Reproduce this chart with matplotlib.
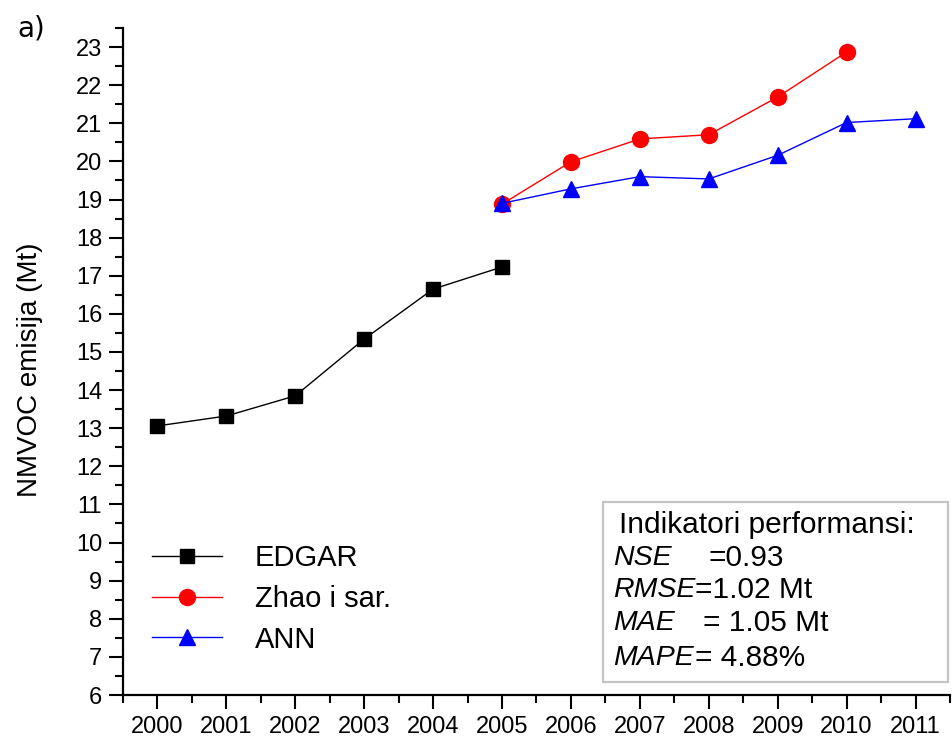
import matplotlib
matplotlib.use("Agg")
import matplotlib.pyplot as plt
from matplotlib.patches import Rectangle
from matplotlib.ticker import MultipleLocator

plt.rcParams['font.family'] = ['Liberation Sans', 'DejaVu Sans']

# Data
years_edgar = [2000, 2001, 2002, 2003, 2004, 2005]
edgar = [13.06, 13.32, 13.85, 15.34, 16.65, 17.23]

years_zhao = [2005, 2006, 2007, 2008, 2009, 2010]
zhao = [18.88, 19.99, 20.59, 20.70, 21.69, 22.87]

years_ann = [2005, 2006, 2007, 2008, 2009, 2010, 2011]
ann = [18.90, 19.28, 19.60, 19.54, 20.16, 21.02, 21.12]

year_ticks = list(range(2000, 2012))

indicators = [("NSE", "=0.93"), ("RMSE", "=1.02 Mt"), ("MAE", "= 1.05 Mt"), ("MAPE", "= 4.88%")]

W, H = 952, 740


def px(x, y):
    # pixel position (from top-left) -> figure fraction
    return x / W, 1 - y / H


fig = plt.figure(figsize=(W / 100, H / 100), dpi=100)
ax = fig.add_axes([123 / W, 1 - 695 / H, (950 - 123) / W, (695 - 28) / H])

ax.plot(years_edgar, edgar, color='black', marker='s', markersize=10, lw=1, label='EDGAR')
ax.plot(years_zhao, zhao, color='red', marker='o', markersize=11.5, lw=1, label='Zhao i sar.')
ax.plot(years_ann, ann, color='blue', marker='^', markersize=12, lw=1, label='ANN')

ax.set_xlim(1999.5, 2011.5)
ax.set_ylim(6, 23.5)
ax.set_xticks(year_ticks)
ax.xaxis.set_minor_locator(MultipleLocator(0.5))
ax.yaxis.set_major_locator(MultipleLocator(1))
ax.yaxis.set_minor_locator(MultipleLocator(0.5))

for s in ['top', 'right']:
    ax.spines[s].set_visible(False)
for s in ['left', 'bottom']:
    ax.spines[s].set_linewidth(1.6)

ax.tick_params(which='major', direction='out', length=10, width=1.5, labelsize=17, pad=5)
ax.tick_params(which='minor', direction='out', length=5.5, width=1.5)

ax.set_ylabel("NMVOC emisija (Mt)", fontsize=20)
ax.yaxis.set_label_coords((43 - 123) / 827, 0.487)

leg = ax.legend(loc='upper left', bbox_to_anchor=px(152, 544), bbox_transform=fig.transFigure,
                frameon=False, fontsize=21, handlelength=2.4, handletextpad=1.13,
                labelspacing=0.44, borderpad=0, borderaxespad=0)

# performance indicator box
x0, y0 = px(603, 682)
box = Rectangle((x0, y0), 345 / W, 180 / H, transform=fig.transFigure,
                facecolor='white', edgecolor='#c4c4c4', lw=1.6)
fig.patches.append(box)

fig.text(*px(619, 525), "Indikatori performansi:", fontsize=21.5, va='center', ha='left')
rows_y = [558, 590, 623, 658]
val_x = [708, 695, 703, 695]
for (name, val), yy, vx in zip(indicators, rows_y, val_x):
    fig.text(*px(613, yy), name, fontsize=20.5, style='italic', va='center', ha='left')
    fig.text(*px(vx, yy), val, fontsize=21.5, va='center', ha='left')

fig.text(*px(17, 29), "a)", fontsize=20, va='center', ha='left', family='DejaVu Sans')

fig.savefig("out.png", dpi=100)
